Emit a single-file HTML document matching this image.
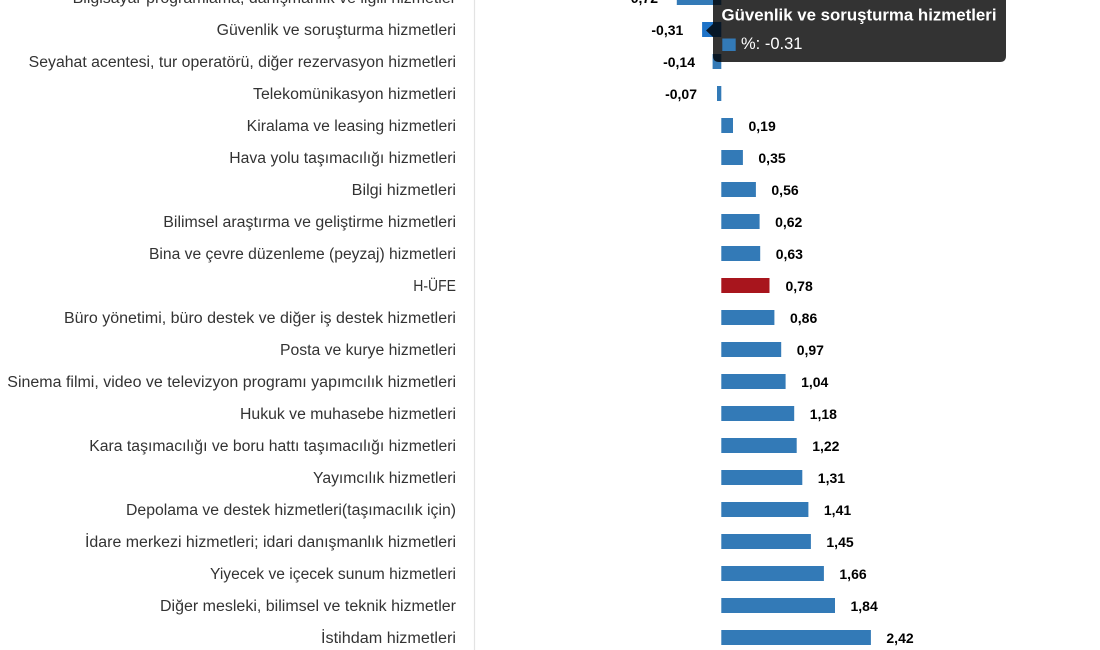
<!DOCTYPE html>
<html>
<head>
<meta charset="utf-8">
<style>
  html, body { margin: 0; padding: 0; background: #ffffff; }
  svg { display: block; }
  .cat { font-family: "Liberation Sans", sans-serif; font-size: 15.5px; fill: #333333; }
  .val { font-family: "Liberation Sans", sans-serif; font-size: 14px; font-weight: bold; fill: #000000; }
</style>
</head>
<body>
<svg width="1100" height="650" viewBox="0 0 1100 650" xmlns="http://www.w3.org/2000/svg">
  <rect x="0" y="0" width="1100" height="650" fill="#ffffff"/>
  <!-- axis line -->
  <line x1="474.5" y1="0" x2="474.5" y2="650" stroke="#e3e3e3" stroke-width="1.2"/>

  <!-- category labels (right aligned at 456) -->
  <g class="cat">
    <text x="72.7" y="3" textLength="383.3" lengthAdjust="spacingAndGlyphs">Bilgisayar programlama, danışmanlık ve ilgili hizmetler</text>
    <text x="216.6" y="35" textLength="239.4" lengthAdjust="spacingAndGlyphs">Güvenlik ve soruşturma hizmetleri</text>
    <text x="28.7" y="67" textLength="427.3" lengthAdjust="spacingAndGlyphs">Seyahat acentesi, tur operatörü, diğer rezervasyon hizmetleri</text>
    <text x="253" y="99" textLength="203" lengthAdjust="spacingAndGlyphs">Telekomünikasyon hizmetleri</text>
    <text x="246.7" y="131" textLength="209.3" lengthAdjust="spacingAndGlyphs">Kiralama ve leasing hizmetleri</text>
    <text x="229.3" y="163" textLength="226.7" lengthAdjust="spacingAndGlyphs">Hava yolu taşımacılığı hizmetleri</text>
    <text x="351.7" y="195" textLength="104.3" lengthAdjust="spacingAndGlyphs">Bilgi hizmetleri</text>
    <text x="163.3" y="227" textLength="292.7" lengthAdjust="spacingAndGlyphs">Bilimsel araştırma ve geliştirme hizmetleri</text>
    <text x="149" y="259" textLength="307" lengthAdjust="spacingAndGlyphs">Bina ve çevre düzenleme (peyzaj) hizmetleri</text>
    <text x="413.3" y="291" textLength="42.7" lengthAdjust="spacingAndGlyphs">H-ÜFE</text>
    <text x="64" y="323" textLength="392" lengthAdjust="spacingAndGlyphs">Büro yönetimi, büro destek ve diğer iş destek hizmetleri</text>
    <text x="280" y="355" textLength="176" lengthAdjust="spacingAndGlyphs">Posta ve kurye hizmetleri</text>
    <text x="7.3" y="387" textLength="448.7" lengthAdjust="spacingAndGlyphs">Sinema filmi, video ve televizyon programı yapımcılık hizmetleri</text>
    <text x="240" y="419" textLength="216" lengthAdjust="spacingAndGlyphs">Hukuk ve muhasebe hizmetleri</text>
    <text x="89.3" y="451" textLength="366.7" lengthAdjust="spacingAndGlyphs">Kara taşımacılığı ve boru hattı taşımacılığı hizmetleri</text>
    <text x="313" y="483" textLength="143" lengthAdjust="spacingAndGlyphs">Yayımcılık hizmetleri</text>
    <text x="126" y="515" textLength="330" lengthAdjust="spacingAndGlyphs">Depolama ve destek hizmetleri(taşımacılık için)</text>
    <text x="85" y="547" textLength="371" lengthAdjust="spacingAndGlyphs">İdare merkezi hizmetleri; idari danışmanlık hizmetleri</text>
    <text x="210" y="579" textLength="246" lengthAdjust="spacingAndGlyphs">Yiyecek ve içecek sunum hizmetleri</text>
    <text x="160" y="611" textLength="296" lengthAdjust="spacingAndGlyphs">Diğer mesleki, bilimsel ve teknik hizmetler</text>
    <text x="321" y="643" textLength="135" lengthAdjust="spacingAndGlyphs">İstihdam hizmetleri</text>
  </g>

  <!-- bars: zero at 721.3, 61.8 px/unit, centers 637.5 - 32k -->
  <g fill="#337ab7">
    <rect x="676.8" y="-10" width="44.5" height="15"/>
    <rect x="702.1" y="22" width="19.2" height="15" fill="#1e73c8"/>
    <rect x="712.6" y="54" width="8.7" height="15"/>
    <rect x="717" y="86" width="4.3" height="15"/>
    <rect x="721.3" y="118" width="11.7" height="15"/>
    <rect x="721.3" y="150" width="21.6" height="15"/>
    <rect x="721.3" y="182" width="34.6" height="15"/>
    <rect x="721.3" y="214" width="38.3" height="15"/>
    <rect x="721.3" y="246" width="38.9" height="15"/>
    <rect x="721.3" y="278" width="48.2" height="15" fill="#a8151d"/>
    <rect x="721.3" y="310" width="53.1" height="15"/>
    <rect x="721.3" y="342" width="59.9" height="15"/>
    <rect x="721.3" y="374" width="64.3" height="15"/>
    <rect x="721.3" y="406" width="72.9" height="15"/>
    <rect x="721.3" y="438" width="75.4" height="15"/>
    <rect x="721.3" y="470" width="81" height="15"/>
    <rect x="721.3" y="502" width="87.1" height="15"/>
    <rect x="721.3" y="534" width="89.6" height="15"/>
    <rect x="721.3" y="566" width="102.6" height="15"/>
    <rect x="721.3" y="598" width="113.7" height="15"/>
    <rect x="721.3" y="630" width="149.6" height="15"/>
  </g>

  <!-- value labels -->
  <g class="val">
    <text x="658" y="3" text-anchor="end">-0,72</text>
    <text x="683.3" y="35" text-anchor="end">-0,31</text>
    <text x="695" y="67" text-anchor="end">-0,14</text>
    <text x="697" y="99" text-anchor="end">-0,07</text>
    <text x="748.5" y="131">0,19</text>
    <text x="758.4" y="163">0,35</text>
    <text x="771.4" y="195">0,56</text>
    <text x="775.1" y="227">0,62</text>
    <text x="775.7" y="259">0,63</text>
    <text x="785.5" y="291">0,78</text>
    <text x="790" y="323">0,86</text>
    <text x="796.7" y="355">0,97</text>
    <text x="801.1" y="387">1,04</text>
    <text x="809.7" y="419">1,18</text>
    <text x="812.2" y="451">1,22</text>
    <text x="817.8" y="483">1,31</text>
    <text x="823.9" y="515">1,41</text>
    <text x="826.4" y="547">1,45</text>
    <text x="839.4" y="579">1,66</text>
    <text x="850.5" y="611">1,84</text>
    <text x="886.4" y="643">2,42</text>
  </g>

  <!-- tooltip -->
  <g opacity="0.8">
    <path d="M719,-6 H1000 Q1006,-6 1006,0 V56 Q1006,62 1000,62 H719 Q713,62 713,56 V37 L706,30.5 L713,24 V0 Q713,-6 719,-6 Z" fill="#000000"/>
  </g>
  <text x="721.5" y="20.5" font-family="Liberation Sans, sans-serif" font-size="17px" font-weight="bold" fill="#ffffff" textLength="275" lengthAdjust="spacingAndGlyphs">Güvenlik ve soruşturma hizmetleri</text>
  <rect x="722.3" y="38.5" width="13.4" height="12.5" fill="#337ab7"/>
  <text x="741" y="49" font-family="Liberation Sans, sans-serif" font-size="16.5px" fill="#ffffff">%: -0.31</text>
</svg>
</body>
</html>
